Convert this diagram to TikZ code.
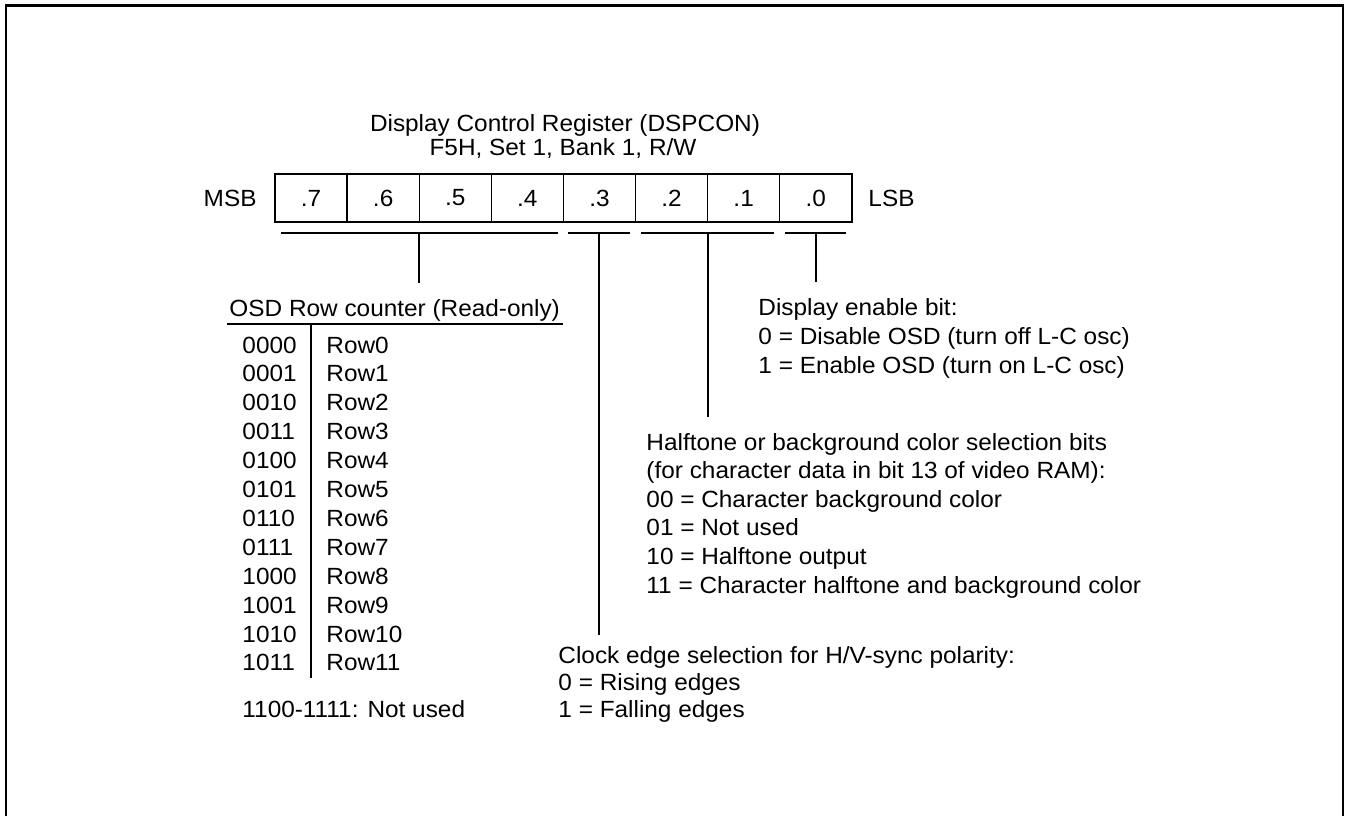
\documentclass[tikz,border=0pt]{standalone}
\usepackage{fontspec}
\setmainfont{Liberation Sans}[FakeStretch=1.04]
\begin{document}
\begin{tikzpicture}[x=.015cm,y=-.015cm,
  lbl/.style={inner sep=0,anchor=base west,font=\fontsize{10}{12}\selectfont},
  bitcell/.style={draw,line width=.6pt,inner sep=0,minimum width=1.0815cm,minimum height=.72cm,font=\fontsize{10}{12}\selectfont},
  brk/.style={line width=.6pt},
  stem/.style={line width=.6pt,shorten >=.24cm}]
  \useasboundingbox (0,0) rectangle (1346,816);
  \draw[line width=1.1pt] (6,816)--(6,5.5)--(1343,5.5)--(1343,816);
  % register title
  \node[lbl,anchor=base] (title) at (565,131) {Display Control Register (DSPCON)};
  \node[lbl,anchor=base] (addr) at (563,155) {F5H, Set 1, Bank 1, R/W};
  % bit cells
  \foreach \b [count=\i from 0] in {7,6,...,0}
    \node[bitcell] (b\b) at ({311.05+72.1*\i},198) {.\b};
  \node[lbl,anchor=east] (msb) at (257,198) {MSB};
  \node[lbl,anchor=west] (lsb) at (868,198) {LSB};
  % field brackets
  \draw[brk] (281,233)--(558,233) (568,233)--(630,233) (641,233)--(774,233) (785,233)--(846,233);
  \coordinate (tapRow) at (419,233); \coordinate (tapClk) at (599,233);
  \coordinate (tapHt) at (708,233); \coordinate (tapEn) at (816,233);
  % row counter table
  \node[lbl] (osd) at (229,316) {OSD Row counter (Read-only)};
  \draw[brk] (227,324)--(563,324) (311,324)--(311,678);
  \foreach \c [count=\i from 0] in {0000,0001,0010,0011,0100,0101,0110,0111,1000,1001,1010,1011}{
    \node[lbl] (code\i) at (242,{353+28.9*\i}) {\c};
    \node[lbl] (row\i) at (326,{353+28.9*\i}) {Row\i};
  }
  \node[lbl] (unused) at (242,717) {1100-1111: Not used};
  % display enable
  \foreach \t [count=\i] in {Display enable bit:,0 = Disable OSD (turn off L-C osc),1 = Enable OSD (turn on L-C osc)}
    \node[lbl] (en\i) at (758,{315+29*(\i-1)}) {\t};
  % halftone
  \foreach \t [count=\i] in {Halftone or background color selection bits,(for character data in bit 13 of video RAM):,00 = Character background color,01 = Not used,10 = Halftone output,11 = Character halftone and background color}
    \node[lbl] (ht\i) at (646,{450+28.6*(\i-1)}) {\t};
  % clock edge
  \foreach \t [count=\i] in {Clock edge selection for H/V-sync polarity:,0 = Rising edges,1 = Falling edges}
    \node[lbl] (clk\i) at (558,{663+27*(\i-1)}) {\t};
  % stems
  \draw[stem] (tapRow)--(tapRow |- osd.north);
  \draw[stem] (tapEn)--(tapEn |- en1.north);
  \draw[stem] (tapHt)--(tapHt |- ht1.north);
  \draw[stem,shorten >=.165cm] (tapClk)--(tapClk |- clk1.north);
\end{tikzpicture}
\end{document}
